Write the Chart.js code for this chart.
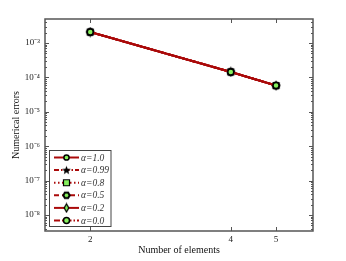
<!DOCTYPE html>
<html><head><meta charset="utf-8">
<script src="https://cdn.jsdelivr.net/npm/chart.js@4"></script>
<style>html,body{margin:0;padding:0;background:#fff;}</style>
</head><body>
<canvas id="chart" width="346" height="261"></canvas>
<script>
// valeurs (toutes les courbes se superposent)
const elements = [2, 4, 5];
const errAlpha10 = [2.08e-3, 1.44e-4, 5.78e-5];
const errAlpha099 = [2.08e-3, 1.44e-4, 5.78e-5];
const errAlpha08 = [2.08e-3, 1.44e-4, 5.78e-5];
const errAlpha05 = [2.08e-3, 1.44e-4, 5.78e-5];
const errAlpha02 = [2.08e-3, 1.44e-4, 5.78e-5];
const errAlpha00 = [2.08e-3, 1.44e-4, 5.78e-5];
const seriesLabels = ['α=1.0', 'α=0.99', 'α=0.8', 'α=0.5', 'α=0.2', 'α=0.0'];
const xTickValues = [2, 4, 5];
const yMajorTicks = [1e-8, 1e-7, 1e-6, 1e-5, 1e-4, 1e-3];
const yTickLabels = ['10⁻⁸', '10⁻⁷', '10⁻⁶', '10⁻⁵', '10⁻⁴', '10⁻³'];

const RED = '#aa0a0a';
const GREEN = '#86f05e';
const FRAME = '#555';

// petits marqueurs dessinés à la main (étoile pleine, hexagone, carré, losange fin)
function makeMarker(kind) {
    const c = document.createElement('canvas');
    c.width = 11; c.height = 11;
    const g = c.getContext('2d');
    g.lineWidth = 1.3;
    g.strokeStyle = '#000';
    g.beginPath();
    if (kind === 'star') {
        for (let i = 0; i < 10; i++) {
            const r = i % 2 ? 2 : 4.6;
            const a = -Math.PI / 2 + i * Math.PI / 5;
            g.lineTo(5.5 + r * Math.cos(a), 5.8 + r * Math.sin(a));
        }
        g.closePath();
        g.fillStyle = '#000';
        g.fill();
    } else if (kind === 'hex') {
        for (let i = 0; i < 6; i++) {
            const a = i * Math.PI / 3;
            g.lineTo(5.5 + 3.2 * Math.cos(a), 5.5 + 3.2 * Math.sin(a));
        }
        g.closePath();
        g.fillStyle = GREEN;
        g.fill();
        g.lineWidth = 2;
        g.stroke();
    } else if (kind === 'square') {
        g.rect(2.5, 2.5, 6, 6);
        g.fillStyle = GREEN;
        g.fill();
        g.lineWidth = 1.2;
        g.stroke();
    } else if (kind === 'thin') {
        g.moveTo(5.5, 1.5); g.lineTo(7.8, 5.5); g.lineTo(5.5, 9.5); g.lineTo(3.2, 5.5);
        g.closePath();
        g.fillStyle = GREEN;
        g.fill();
        g.stroke();
    }
    return c;
}

const styles = [
    { data: errAlpha10, dash: [], point: 'circle', r: 2.6 },
    { data: errAlpha099, dash: [5, 2, 1.5, 2], point: makeMarker('star'), r: 4 },
    { data: errAlpha08, dash: [1.5, 2.5], point: makeMarker('square'), r: 4 },
    { data: errAlpha05, dash: [5, 3], point: makeMarker('hex'), r: 4 },
    { data: errAlpha02, dash: [], point: makeMarker('thin'), r: 4 },
    { data: errAlpha00, dash: [6, 2, 1.5, 2], point: 'circle', r: 3 }
];

const datasets = styles.map((s, i) => ({
    label: seriesLabels[i],
    data: elements.map((x, j) => ({ x: x, y: s.data[j] })),
    borderColor: RED,
    borderWidth: 2,
    borderDash: s.dash,
    pointStyle: s.point,
    pointRadius: s.r,
    pointBackgroundColor: GREEN,
    pointBorderColor: '#000',
    pointBorderWidth: 1.5,
    fill: false,
    order: styles.length - 1 - i
}));

// cadre, graduations vers l'intérieur et légende dans la zone du graphique
const framePlugin = {
    id: 'frame',
    afterDraw(chart) {
        const { ctx, chartArea: a, scales: { x, y } } = chart;
        ctx.save();
        ctx.strokeStyle = FRAME;
        ctx.lineWidth = 1;
        const seg = (x1, y1, x2, y2) => { ctx.beginPath(); ctx.moveTo(x1, y1); ctx.lineTo(x2, y2); ctx.stroke(); };
        y.ticks.forEach(t => {
            const py = Math.round(y.getPixelForValue(t.value)) + 0.5;
            const len = t.major ? 4 : 2;
            seg(a.left, py, a.left + len, py);
            seg(a.right, py, a.right - len, py);
        });
        x.ticks.forEach(t => {
            const px = Math.round(x.getPixelForValue(t.value)) + 0.5;
            seg(px, a.bottom, px, a.bottom - 4);
            seg(px, a.top, px, a.top + 4);
        });
        ctx.lineWidth = 1.5;
        ctx.strokeRect(a.left, a.top, a.right - a.left, a.bottom - a.top);

        // légende
        const lx = a.left + 4.5, ly = 150.5, lw = 61.5, lh = 76;
        ctx.fillStyle = '#fff';
        ctx.fillRect(lx, ly, lw, lh);
        ctx.lineWidth = 1;
        ctx.strokeStyle = '#444';
        ctx.strokeRect(lx, ly, lw, lh);
        ctx.font = 'italic 9.5px "Liberation Serif"';
        ctx.textBaseline = 'middle';
        chart.data.datasets.forEach((ds, i) => {
            const yy = ly + 7 + i * 12.6;
            ctx.strokeStyle = RED;
            ctx.lineWidth = 2;
            ctx.setLineDash(ds.borderDash);
            seg(lx + 4.5, yy, lx + 29.5, yy);
            ctx.setLineDash([]);
            ctx.fillStyle = GREEN;
            ctx.strokeStyle = '#000';
            ctx.lineWidth = 1.5;
            Chart.helpers.drawPoint(ctx, { pointStyle: ds.pointStyle, radius: ds.pointRadius, rotation: 0, borderWidth: 1.5 }, lx + 17, yy);
            ctx.fillStyle = '#333';
            ctx.fillText(ds.label, lx + 31.5, yy + 0.5);
        });
        ctx.restore();
    }
};

new Chart(document.getElementById('chart'), {
    type: 'line',
    data: { datasets: datasets },
    options: {
        responsive: false,
        animation: false,
        layout: { padding: { top: 19, right: 33, left: 0, bottom: 0 } },
        plugins: { legend: { display: false }, tooltip: { enabled: false } },
        scales: {
            x: {
                type: 'logarithmic',
                min: 1.6,
                max: 6,
                grid: { display: false, drawTicks: false },
                border: { display: false },
                afterBuildTicks: s => { s.ticks = xTickValues.map(v => ({ value: v })); },
                afterFit: s => { s.height = 30; },
                ticks: {
                    autoSkip: false,
                    maxRotation: 0,
                    padding: 3,
                    color: '#222',
                    font: { family: 'Liberation Serif', size: 9 },
                    callback: v => String(v)
                },
                title: {
                    display: true,
                    text: 'Number of elements',
                    color: '#111',
                    font: { family: 'Liberation Serif', size: 10 },
                    padding: { top: 0, bottom: 5 }
                }
            },
            y: {
                type: 'logarithmic',
                min: 3.44e-9,
                max: 4.97e-3,
                grid: { display: false, drawTicks: false },
                border: { display: false },
                afterBuildTicks: s => {
                    const t = [];
                    for (let e = -9; e <= -2; e++) {
                        for (let k = 1; k <= 9; k++) {
                            const v = k * Math.pow(10, e);
                            if (v >= s.min && v <= s.max) t.push({ value: v, major: k === 1 });
                        }
                    }
                    s.ticks = t;
                },
                afterFit: s => { s.width = 45; },
                ticks: {
                    autoSkip: false,
                    padding: 5,
                    color: '#222',
                    font: { family: 'Liberation Serif', size: 9 },
                    callback: v => {
                        const i = yMajorTicks.findIndex(m => Math.abs(m - v) / m < 1e-6);
                        return i >= 0 ? yTickLabels[i] : '';
                    }
                },
                title: {
                    display: true,
                    text: 'Numerical errors',
                    color: '#111',
                    font: { family: 'Liberation Serif', size: 10 },
                    padding: { top: 10, bottom: 0 }
                }
            }
        }
    },
    plugins: [framePlugin]
});
</script>
</body></html>
